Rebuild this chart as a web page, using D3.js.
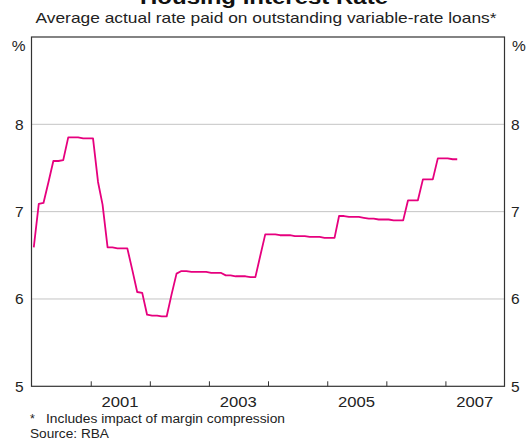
<!DOCTYPE html>
<html><head><meta charset="utf-8">
<script src="https://cdn.jsdelivr.net/npm/d3@7"></script>
<style>body{margin:0;background:#fff}svg{display:block;font-family:"Liberation Sans",Arial,sans-serif}</style>
</head><body><svg id="c" width="528" height="442"></svg>
<script>
const title = "Housing Interest Rate";
const subtitle = "Average actual rate paid on outstanding variable-rate loans*";
const footnoteMark = "*";
const footnote = "Includes impact of margin compression";
const source = "Source: RBA";
const startYear = 2000, startMonth = 0; // Jan 2000, monthly
const rates = [6.59,7.09,7.10,7.34,7.58,7.58,7.59,7.85,7.85,7.85,7.84,7.84,
7.84,7.34,7.08,6.59,6.59,6.58,6.58,6.58,6.33,6.08,6.07,5.82,
5.81,5.81,5.80,5.80,6.05,6.29,6.32,6.32,6.31,6.31,6.31,6.31,
6.30,6.30,6.30,6.27,6.27,6.26,6.26,6.26,6.25,6.25,6.50,6.74,
6.74,6.74,6.73,6.73,6.73,6.72,6.72,6.72,6.71,6.71,6.71,6.70,
6.70,6.70,6.95,6.95,6.94,6.94,6.94,6.93,6.92,6.92,6.91,6.91,
6.91,6.90,6.90,6.90,7.13,7.13,7.13,7.37,7.37,7.37,7.61,7.61,
7.61,7.60,7.60];
const yTicks = [5,6,7,8];
const yTopLabel = "%";
const yearTicks = [2001,2002,2003,2004,2005,2006,2007];
const yearLabels = [2001,2003,2005,2007];

const data = rates.map((v,i)=>({date:new Date(startYear, startMonth+i, 15), v}));
const svg = d3.select("#c");
const L=31.5, R=504.5, T=37, B=386.3;
const x = d3.scaleTime().domain([new Date(2000,0,1), new Date(2008,0,1)]).range([L,R]);
const y = d3.scaleLinear().domain([5,9]).range([B,T]);

// grid
svg.append("g").selectAll("line").data([6,7,8]).join("line")
  .attr("x1",L).attr("x2",R).attr("y1",d=>y(d)).attr("y2",d=>y(d))
  .attr("stroke","#c4c4c4").attr("stroke-width",1);

// line
svg.append("path").datum(data)
  .attr("d", d3.line().x(d=>x(d.date)).y(d=>y(d.v)))
  .attr("fill","none").attr("stroke","#e6007e").attr("stroke-width",1.8).attr("stroke-linejoin","round");

// frame
svg.append("rect").attr("x",L).attr("y",T).attr("width",R-L).attr("height",B-T)
  .attr("fill","none").attr("stroke","#333").attr("stroke-width",1.2);

// x ticks (inside, upward)
const xa = d3.axisBottom(x).tickValues(yearTicks.map(yy=>new Date(yy,0,1))).tickSize(-5).tickFormat("");
const gx = svg.append("g").attr("transform",`translate(0,${B})`).call(xa);
gx.select(".domain").remove();
gx.selectAll(".tick line").attr("stroke","#333");

svg.append("g").selectAll("text").data(yearLabels).join("text")
  .attr("x",d=>x(new Date(d,6,1))).attr("y",407).attr("text-anchor","middle")
  .attr("font-size",15).attr("fill","#222")
  .attr("textLength",37).attr("lengthAdjust","spacingAndGlyphs").text(d=>d);

// y labels both sides
const yl = yTicks.map(d=>({v:d,t:String(d)})).concat([{v:9,t:yTopLabel}]);
const ya = svg.append("g");
ya.selectAll("text.l").data(yl).join("text").attr("class","l")
  .attr("x",d=>d.t==="%"?25.5:23.5).attr("y",d=>d.t==="%"?y(d.v)+14:y(d.v)+5.5).attr("text-anchor","end")
  .attr("font-size",15.5).attr("fill","#222").text(d=>d.t);
ya.selectAll("text.r").data(yl).join("text").attr("class","r")
  .attr("x",d=>d.t==="%"?512:511).attr("y",d=>d.t==="%"?y(d.v)+14:y(d.v)+5.5).attr("text-anchor","start")
  .attr("font-size",15.5).attr("fill","#222").text(d=>d.t);

// titles
svg.append("text").attr("x",264).attr("y",4).attr("text-anchor","middle")
  .attr("font-size",20).attr("font-weight","bold").attr("fill","#111")
  .attr("textLength",248).attr("lengthAdjust","spacingAndGlyphs").text(title);
svg.append("text").attr("x",266).attr("y",23).attr("text-anchor","middle")
  .attr("font-size",15).attr("fill","#222")
  .attr("textLength",461).attr("lengthAdjust","spacingAndGlyphs").text(subtitle);

svg.append("text").attr("x",30).attr("y",423).attr("font-size",12.5).attr("fill","#222").text(footnoteMark);
svg.append("text").attr("x",46).attr("y",423).attr("font-size",12.5).attr("fill","#222")
  .attr("textLength",239).attr("lengthAdjust","spacingAndGlyphs").text(footnote);
svg.append("text").attr("x",30).attr("y",437.5).attr("font-size",12.5).attr("fill","#222")
  .attr("textLength",79).attr("lengthAdjust","spacingAndGlyphs").text(source);
</script></body></html>
